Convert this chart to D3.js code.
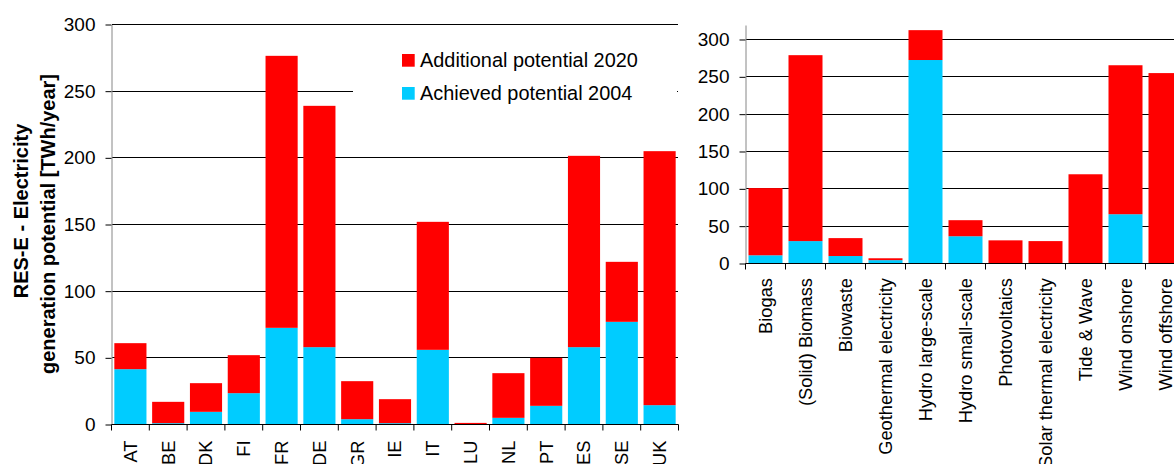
<!DOCTYPE html>
<html>
<head>
<meta charset="utf-8">
<script src="https://cdn.jsdelivr.net/npm/d3@7"></script>
<style>
    body { margin: 0; background: #fff; }
    svg { display: block; font-family: "Liberation Sans", Arial, sans-serif; }
</style>
</head>
<body>
<svg id="chart" width="1174" height="464"></svg>
<script>
'use strict';

// Left chart: potential per country [TWh/year]
var countries = ['AT', 'BE', 'DK', 'FI', 'FR', 'DE', 'GR', 'IE', 'IT', 'LU', 'NL', 'PT', 'ES', 'SE', 'UK'];
var countryAchieved2004 = [41.5, 1, 9.5, 23.5, 72.5, 58, 4, 1, 56, 0.2, 5, 14, 58, 77, 14.5];
var countryAdditional2020 = [19.5, 16, 21.5, 28.5, 204, 181, 28.5, 18, 96, 1, 33.5, 36, 143.5, 45, 190.5];

// Right chart: potential per technology [TWh/year]
var technologies = ['Biogas', '(Solid) Biomass', 'Biowaste', 'Geothermal electricity', 'Hydro large-scale',
    'Hydro small-scale', 'Photovoltaics', 'Solar thermal electricity', 'Tide & Wave', 'Wind onshore', 'Wind offshore'];
var techAchieved2004 = [11, 30, 10, 4.5, 272.5, 36.5, 0, 0, 0, 66, 0];
var techAdditional2020 = [90, 249, 24, 2.5, 40, 21.5, 31, 30, 119.5, 199.5, 255];

var leftTicks = [0, 50, 100, 150, 200, 250, 300];
var rightTicks = [0, 50, 100, 150, 200, 250, 300];

var seriesNames = ['Additional potential 2020', 'Achieved potential 2004'];
var seriesColors = ['#ff0000', '#00ccff'];

var svg = d3.select('#chart');

function drawStacked(opts) {
    var g = svg.append('g'),
        x, y, stackData, i;

    x = d3.scaleBand()
        .domain(opts.categories)
        .range([opts.left, opts.left + opts.step * opts.categories.length])
        .paddingInner(0.15)
        .paddingOuter(0.075);

    y = d3.scaleLinear()
        .domain([0, opts.yMax])
        .range([opts.bottom, opts.axisTop]);

    // Horizontal grid lines
    g.append('g')
        .selectAll('line')
        .data(opts.ticks.slice(1))
        .enter().append('line')
        .attr('x1', opts.left)
        .attr('x2', opts.gridRight)
        .attr('y1', function (d) { return y(d); })
        .attr('y2', function (d) { return y(d); })
        .attr('stroke', '#000')
        .attr('shape-rendering', 'crispEdges');

    stackData = opts.categories.map(function (c, idx) {
        return {cat: c, achieved: opts.achieved[idx], additional: opts.additional[idx]};
    });

    // Bars: achieved at the bottom, additional on top
    g.append('g').selectAll('rect')
        .data(stackData)
        .enter().append('rect')
        .attr('x', function (d) { return x(d.cat); })
        .attr('width', x.bandwidth())
        .attr('y', function (d) { return y(d.achieved); })
        .attr('height', function (d) { return y(0) - y(d.achieved); })
        .attr('fill', seriesColors[1]);

    g.append('g').selectAll('rect')
        .data(stackData)
        .enter().append('rect')
        .attr('x', function (d) { return x(d.cat); })
        .attr('width', x.bandwidth())
        .attr('y', function (d) { return y(d.achieved + d.additional); })
        .attr('height', function (d) { return y(d.achieved) - y(d.achieved + d.additional); })
        .attr('fill', seriesColors[0]);

    // Y axis
    var yAxis = g.append('g')
        .attr('transform', 'translate(' + opts.left + ',0)')
        .call(d3.axisLeft(y).tickValues(opts.ticks).tickSize(6).tickPadding(10).tickSizeOuter(0));
    yAxis.select('.domain').attr('stroke', '#868686');
    yAxis.selectAll('.tick line').attr('stroke', '#000');
    yAxis.selectAll('text')
        .attr('fill', '#000')
        .style('font-size', '19px')
        .style('font-family', '"Liberation Sans", Arial, sans-serif');

    // X axis: domain line, ticks at band boundaries, rotated labels
    var xAxis = g.append('g')
        .attr('transform', 'translate(0,' + opts.bottom + ')');

    xAxis.append('line')
        .attr('x1', opts.left)
        .attr('x2', x.range()[1])
        .attr('stroke', '#000');

    var bounds = [];
    for (i = 0; i <= opts.categories.length; i++) {
        bounds.push(opts.left + i * x.step());
    }

    xAxis.selectAll('.bound')
        .data(bounds)
        .enter().append('line')
        .attr('class', 'bound')
        .attr('x1', function (d) { return d; })
        .attr('x2', function (d) { return d; })
        .attr('y1', 0)
        .attr('y2', 6)
        .attr('stroke', '#000');

    xAxis.selectAll('.cat')
        .data(opts.categories)
        .enter().append('text')
        .attr('class', 'cat')
        .attr('transform', function (d) {
            return 'translate(' + (x(d) + x.bandwidth() / 2) + ',' + opts.labelOffset + ') rotate(-90)';
        })
        .attr('dy', '0.35em')
        .style('text-anchor', 'end')
        .style('font-size', '18.3px')
        .attr('fill', '#000')
        .text(function (d) { return d; });
}

drawStacked({
    categories: countries,
    achieved:   countryAchieved2004,
    additional: countryAdditional2020,
    ticks:      leftTicks,
    left:       111.5,
    step:       37.8,
    bottom:     424.5,
    axisTop:    24.5,
    yMax:       300,
    gridRight:  678,
    labelOffset: 16
});

drawStacked({
    categories: technologies,
    achieved:   techAchieved2004,
    additional: techAdditional2020,
    ticks:      rightTicks,
    left:       745.5,
    step:       40,
    bottom:     263.5,
    axisTop:    25,
    yMax:       319.4,
    gridRight:  1174,
    labelOffset: 14.5
});

// Legend (white box hides the grid line behind it)
var legend = svg.append('g');

legend.append('rect')
    .attr('x', 353)
    .attr('y', 38)
    .attr('width', 324)
    .attr('height', 78)
    .attr('fill', '#fff');

legend.selectAll('.item')
    .data(seriesNames)
    .enter().append('g')
    .attr('class', 'item')
    .attr('transform', function (d, i) { return 'translate(402,' + (54 + i * 33) + ')'; })
    .each(function (d, i) {
        var item = d3.select(this);
        item.append('rect')
            .attr('width', 12.7)
            .attr('height', 12.7)
            .attr('fill', seriesColors[i]);
        item.append('text')
            .attr('x', 18)
            .attr('y', 13)
            .style('font-size', '19.9px')
            .attr('fill', '#000')
            .text(d);
    });

// Y axis title (two centred lines)
var titleLines = [
    {text: 'RES-E - Electricity', x: 28, y: 211},
    {text: 'generation potential [TWh/year]', x: 55, y: 224}
];

svg.selectAll('.ytitle')
    .data(titleLines)
    .enter().append('text')
    .attr('class', 'ytitle')
    .attr('transform', function (d) { return 'translate(' + d.x + ',' + d.y + ') rotate(-90)'; })
    .style('text-anchor', 'middle')
    .style('font-weight', 'bold')
    .style('font-size', '20px')
    .attr('fill', '#000')
    .text(function (d) { return d.text; });
</script>
</body>
</html>
